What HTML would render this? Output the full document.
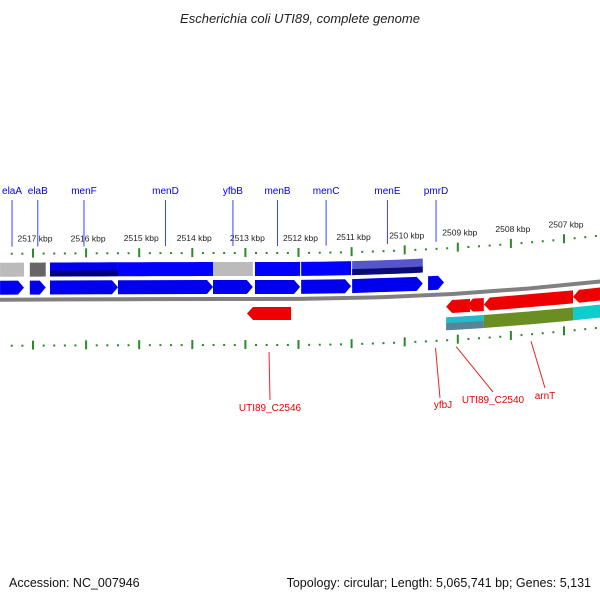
<!DOCTYPE html>
<html><head><meta charset="utf-8"><style>
body{margin:0;background:#fff;}
svg{display:block;font-family:"Liberation Sans","DejaVu Sans",sans-serif;}
</style></head><body>
<svg id="chart" width="600" height="600" viewBox="0 0 600 600">
<text x="300" y="23" text-anchor="middle" font-size="13" font-style="italic" fill="#222">Escherichia coli UTI89, complete genome</text>
<text x="9" y="587" font-size="12.5" fill="#111">Accession: NC_007946</text>
<text x="591" y="587" text-anchor="end" font-size="12.5" fill="#111">Topology: circular; Length: 5,065,741 bp; Genes: 5,131</text>
<g id="g"></g>
</svg>
<script>
const tickKbp=[2517,2516,2515,2514,2513,2512,2511,2510,2509,2508,2507];
const fwdNames=["elaA","elaB","menF","menD","yfbB","menB","menC","menE","pmrD"];
const fwdStart=[2517.62,2517.06,2516.68,2515.40,2513.61,2512.82,2511.95,2510.99,2509.56];
const fwdEnd=[2517.17,2516.76,2515.40,2513.61,2512.86,2511.97,2511.01,2509.66,2509.26];
const revNames=["UTI89_C2546","yfbJ","UTI89_C2540","arnT","next"];
const revStart=[2512.97,2509.22,2508.83,2508.51,2506.83];
const revEnd=[2512.14,2508.77,2508.51,2506.83,2506.1];
const NS="http://www.w3.org/2000/svg";
const g=document.getElementById('g');
function X(k){return 33+(2517-k)*53.1;}
function C(x){return x>280?-1.7e-4*(x-280)*(x-280):1e-5*(280-x)*(280-x);}
function el(t,a,p){const e=document.createElementNS(NS,t);for(const k in a)e.setAttribute(k,a[k]);(p||g).appendChild(e);return e;}
function band(x1,x2,y1,y2,fill,op){
 const n=[];for(let i=0;i<=8;i++){const x=x1+(x2-x1)*i/8;n.push(x+','+(y1+C(x)));}
 for(let i=8;i>=0;i--){const x=x1+(x2-x1)*i/8;n.push(x+','+(y2+C(x)));}
 return el('polygon',{points:n.join(' '),fill:fill,opacity:op||1});
}
function arrow(x1,x2,y1,y2,fill,dir){
 const h=6,m=(y1+y2)/2;let p;
 if(dir>0)p=[[x1,y1],[x2-h,y1],[x2,m],[x2-h,y2],[x1,y2]];
 else p=[[x2,y1],[x1+h,y1],[x1,m],[x1+h,y2],[x2,y2]];
 return el('polygon',{points:p.map(q=>q[0]+','+(q[1]+C(q[0]))).join(' '),fill:fill});
}
// backbone
let e=band(-5,605,297,301,'#808080');
// ticks upper and lower
for(let k=2518;k>=2506;k-=0.2){
 const kk=Math.round(k*10)/10;const x=X(kk);if(x<2||x>598)continue;
 const major=Math.abs(kk-Math.round(kk))<0.01;
 [253,345].forEach((yb,ri)=>{
  const y=yb+C(x);
  const t=el('rect',{x:x-1,y:major?y-5:y-1,width:2,height:major?9:2,fill:'#2a8a2a'});
  
  
 });
}
tickKbp.forEach(k=>{const x=X(k);
 const t=el('text',{x:x+2,y:241+C(x),'font-size':'8.5','text-anchor':'middle',fill:'#222'});t.textContent=k+' kbp';
 
 });
// feature boxes upper row
const boxCols=['#bbb','#666','#0000ee','#0000ff','#bbb','#0000ff','#0000ff','#5555cc','#0000ff'];
fwdNames.forEach((n,i)=>{if(i==8)return;const x1=X(fwdStart[i]),x2=X(fwdEnd[i]);
 let b=band(x1,x2,262,276,boxCols[i]);
 
 
 if(i==2||i==7){band(x1,x2,270,276,'#000066',0.85);}
});
// forward arrows
fwdNames.forEach((n,i)=>{const x1=X(fwdStart[i]),x2=X(fwdEnd[i]);
 const a=arrow(x1,x2,280,294,'#0000ee',1);
 
 
 const x=(x1+x2)/2;
 const ln=el('line',{x1:x,y1:200,x2:x,y2:246+C(x),stroke:'#3344ff','stroke-width':1});
 
 
 const t=el('text',{x:x,y:194,'font-size':'10','text-anchor':'middle',fill:'#0000ee'});t.textContent=n;
 
 
});
// reverse arrows
revNames.forEach((n,i)=>{const x1=X(revStart[i]),x2=X(revEnd[i]);
 const a=arrow(x1,x2,(i==0?307:305),(i==0?320:318),'#ee0000',-1);
 
 
});
// lower boxes
const lbCols=['#22bbcc','#22bbcc','#6b8e23','#11cccc'];
[[1,2],[3,3],[4,4]].forEach((r,j)=>{const x1=X(revStart[r[0]]),x2=X(revEnd[r[1]]);
 const b=band(x1,x2,322,335,j==0?'#22bbcc':j==1?'#6b8e23':'#11cccc');
 
 
 if(j==0)band(x1,x2,328,335,'#667788',0.8);
});
// red labels
const redLab=[["UTI89_C2546",0,270,400,270,411],["yfbJ",1,440,398,443,408],["UTI89_C2540",2,493,392,493,403],["arnT",3,545,388,545,399]];
redLab.forEach(r=>{const k=(revStart[r[1]]+(r[1]==3?revStart[3]-0.6:revEnd[r[1]]))/2;
 const x=r[1]==3?531:X(r[1]==1?revStart[1]+0.2:r[1]==2?revStart[2]+0.2:(revStart[0]+revEnd[0])/2)-(r[1]==0?0:0);
 const ln=el('line',{x1:x,y1:352+C(x),x2:r[2],y2:r[3],stroke:'#ee2222','stroke-width':1});
 
 
 const t=el('text',{x:r[4],y:r[5],'font-size':'10','text-anchor':'middle',fill:'#ee0000'});t.textContent=r[0];
 
 
});
</script>
</body></html>
